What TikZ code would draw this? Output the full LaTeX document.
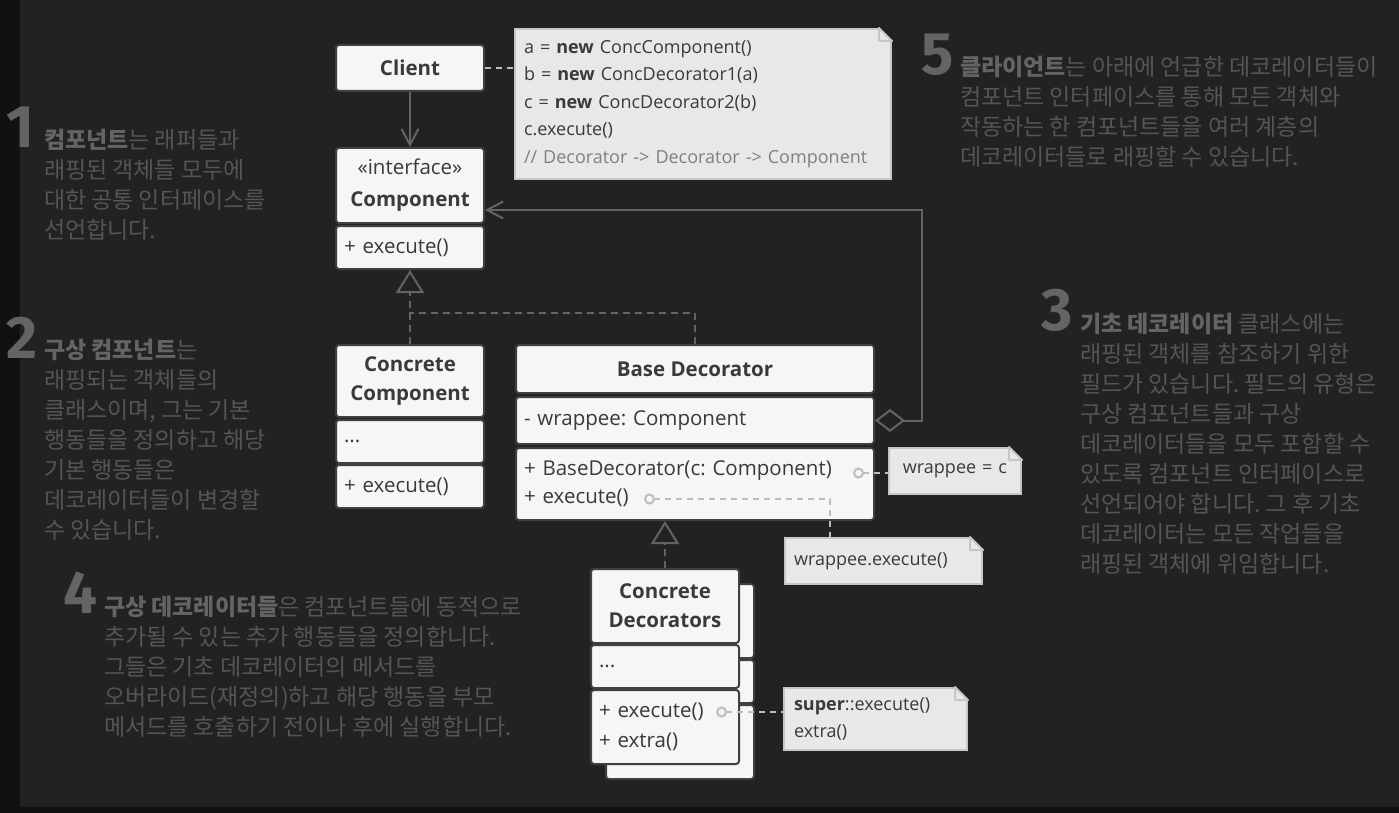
\documentclass[tikz,border=0pt]{standalone}
\usepackage{fontspec}
\setmainfont{Open Sans}
\newfontfamily\kr{Noto Sans CJK KR}
\newfontfamily\numf{Fira Sans}
\usetikzlibrary{arrows.meta}
\frenchspacing

\definecolor{bgcol}{HTML}{222222}
\definecolor{edgecol}{HTML}{111111}
\definecolor{boxfill}{HTML}{F6F6F6}
\definecolor{boxline}{HTML}{404040}
\definecolor{ink}{HTML}{3A3A3A}
\definecolor{wire}{HTML}{646464}
\definecolor{notefill}{HTML}{E8E8E8}
\definecolor{noteline}{HTML}{C6C6C6}
\definecolor{pin}{HTML}{BDBDBD}
\definecolor{remark}{HTML}{808080}
\definecolor{prose}{HTML}{555555}
\definecolor{prosebf}{HTML}{646464}

\newcommand\kw[1]{\textcolor{prosebf}{\bfseries#1}}
\newcommand\dogear[1]{%
  \fill[bgcol] ([xshift=-14.5pt,yshift=1.5pt]#1.north east) -- ([shift={(1.5pt,1.5pt)}]#1.north east)
    -- ([xshift=1.5pt,yshift=-14.5pt]#1.north east) -- cycle;
  \filldraw[draw=noteline, fill=notefill, line join=round] ([xshift=-13pt]#1.north east)
    -- ([yshift=-13pt]#1.north east) -- ([shift={(-13pt,-13pt)}]#1.north east) -- cycle;}

\begin{document}
\begin{tikzpicture}[x=1pt, y=-1pt, line width=2pt,
    >={Straight Barb[length=16pt, width=17pt]},
    cell/.style={draw=boxline, fill=boxfill, rounded corners=3pt, inner sep=0pt,
      anchor=north west, text=ink, font=\fontsize{20.5}{28}\selectfont},
    head/.style={cell, align=center, font=\bfseries\fontsize{20.5}{29}\selectfont},
    body/.style={cell, align=left, inner xsep=8pt},
    note/.style={draw=noteline, fill=notefill, inner sep=0pt, inner xsep=9pt,
      anchor=north west, align=left, text=ink, font=\fontsize{18}{27.5}\selectfont},
    link/.style={draw=wire},
    realize/.style={draw=wire, dash pattern=on 7pt off 5pt},
    pinline/.style={draw=pin, dash pattern=on 6pt off 5pt},
    pinstart/.style={{Circle[open, length=11pt, width=11pt, line width=2pt]}-},
    hollow/.style={-{Triangle[length=23pt, width=28pt, fill=bgcol]}},
    prose/.style={anchor=north west, inner sep=0pt, align=left, text=prose,
      font=\kr\fontsize{23}{30}\selectfont},
    num/.style={anchor=base west, inner sep=0pt, text=prosebf,
      font=\numf\bfseries\fontsize{60}{60}\selectfont}]

\fill[edgecol] (0,0) rectangle (1399,813);
\fill[bgcol] (20,0) rectangle (1399,807);
\useasboundingbox (0,0) rectangle (1399,813);

\node[head, minimum width=148pt, minimum height=46pt] (client) at (335,44) {Client};
\node[cell, align=center, minimum width=148pt, minimum height=75pt,
  font=\fontsize{20.5}{32}\selectfont] (comp-h) at (335,147) {«interface»\\\textbf{Component}};
\node[body, text width=132pt, minimum height=43pt] (comp-m) at (335,225) {+ execute()};

\node[head, minimum width=148pt, minimum height=72pt] (cc-h) at (335,344) {Concrete\\Component};
\node[body, text width=132pt, minimum height=43pt] (cc-f) at (335,419) {...};
\node[body, text width=132pt, minimum height=43pt] (cc-m) at (335,464) {+ execute()};

\node[head, minimum width=358pt, minimum height=48pt] (bd-h) at (515,344) {Base Decorator};
\node[body, text width=342pt, minimum height=47pt] (bd-f) at (515,396) {- wrappee: Component};
\node[body, text width=342pt, minimum height=72pt] (bd-m) at (515,447)
  {+ BaseDecorator(c: Component)\\+ execute()};

\node[cell, minimum width=148pt, minimum height=74pt] (cdb-h) at (605,583) {};
\node[cell, minimum width=148pt, minimum height=43pt] (cdb-f) at (605,659) {};
\node[cell, minimum width=148pt, minimum height=74pt] (cdb-m) at (605,704) {};
\node[head, minimum width=148pt, minimum height=74pt] (cd-h) at (590,568) {Concrete\\Decorators};
\node[body, text width=132pt, minimum height=43pt] (cd-f) at (590,644) {...};
\node[body, text width=132pt, minimum height=74pt, font=\fontsize{20.5}{30}\selectfont] (cd-m) at (590,689)
  {+ execute()\\+ extra()};

\node[note, text width=358pt, minimum height=150pt] (code) at (514,28)
  {a = \textbf{new} ConcComponent()\\b = \textbf{new} ConcDecorator1(a)\\
   c = \textbf{new} ConcDecorator2(b)\\c.execute()\\
   \textcolor{remark}{// Decorator -> Decorator -> Component}};
\dogear{code}
\node[note, inner xsep=8pt, text width=116pt, align=center, minimum height=46pt] (wnote) at (888,447) {wrappee = c};
\dogear{wnote}
\node[note, text width=179pt, minimum height=46pt] (wexnote) at (784,537) {wrappee.execute()};
\dogear{wexnote}
\node[note, inner xsep=10pt, text width=163pt, minimum height=62pt] (snote) at (783,687)
  {\textbf{super}::execute()\\extra()};
\dogear{snote}

\coordinate (fork) at (409,313);
\coordinate (ctorpin) at (853,473);
\coordinate (execpin) at (644,499);
\coordinate (xtrapin) at (716,712);

\draw[link, ->] (client) -- (comp-h);
\draw[realize, hollow] (cc-h) -- (comp-m);
\draw[realize] (bd-h) |- (fork);
\draw[realize, hollow] (cd-h.north) -- (cd-h.north |- bd-m.south);
\draw[link, {Diamond[length=30pt, width=23pt, fill=bgcol]}->] (bd-f.east) -- ++(47,0)
  |- ([yshift=14pt]comp-h.south east);

\draw[pinline] (client) -- (client -| code.west);
\draw[pinline, pinstart] (ctorpin) -- (ctorpin -| wnote.west);
\draw[pinline, pinstart] (execpin) -| ([xshift=46pt]wexnote.north west);
\draw[pinline, pinstart] (xtrapin) -- (xtrapin -| snote.west);

\node[num] (n1) at (5,148) {1};
\node[prose] (p1) at (43,128) {\kw{컴포넌트}는 래퍼들과\\래핑된 객체들 모두에\\
  대한 공통 인터페이스를\\선언합니다.};
\node[num] (n2) at (5,358) {2};
\node[prose] (p2) at (43,338) {\kw{구상 컴포넌트}는\\래핑되는 객체들의\\클래스이며, 그는 기본\\
  행동들을 정의하고 해당\\기본 행동들은\\데코레이터들이 변경할\\수 있습니다.};
\node[num] (n3) at (1040,330) {3};
\node[prose] (p3) at (1079,312) {\kw{기초 데코레이터} 클래스에는\\래핑된 객체를 참조하기 위한\\
  필드가 있습니다. 필드의 유형은\\구상 컴포넌트들과 구상\\데코레이터들을 모두 포함할 수\\
  있도록 컴포넌트 인터페이스로\\선언되어야 합니다. 그 후 기초\\데코레이터는 모든 작업들을\\
  래핑된 객체에 위임합니다.};
\node[num] (n4) at (62,613) {4};
\node[prose] (p4) at (103,595) {\kw{구상 데코레이터들}은 컴포넌트들에 동적으로\\
  추가될 수 있는 추가 행동들을 정의합니다.\\그들은 기초 데코레이터의 메서드를\\
  오버라이드(재정의)하고 해당 행동을 부모\\메서드를 호출하기 전이나 후에 실행합니다.};
\node[num] (n5) at (920,75) {5};
\node[prose] (p5) at (959,55) {\kw{클라이언트}는 아래에 언급한 데코레이터들이\\
  컴포넌트 인터페이스를 통해 모든 객체와\\작동하는 한 컴포넌트들을 여러 계층의\\
  데코레이터들로 래핑할 수 있습니다.};
\end{tikzpicture}
\end{document}
